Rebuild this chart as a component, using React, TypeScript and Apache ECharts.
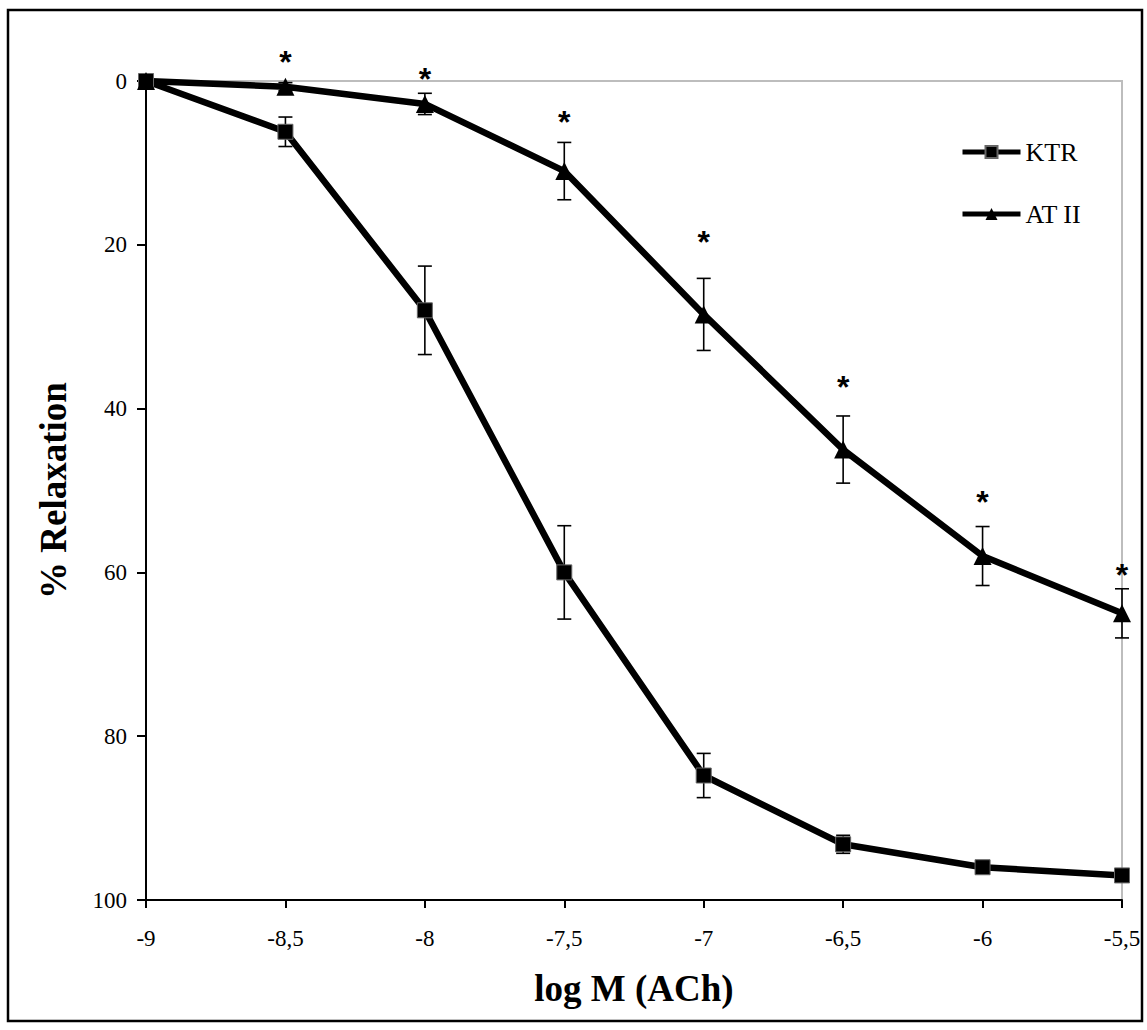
import React, { useEffect, useRef } from "react";
import * as echarts from "echarts";

const doses = [-9, -8.5, -8, -7.5, -7, -6.5, -6, -5.5];
const ktrValues = [0, 6.2, 28, 60, 84.8, 93.2, 96, 97];
const ktrErrors = [0, 1.8, 5.4, 5.7, 2.7, 1.1, 0.6, 0.5];
const at2Values = [0, 0.7, 2.8, 11, 28.5, 45, 58, 65];
const at2Errors = [0, 0.5, 1.3, 3.5, 4.4, 4.1, 3.6, 3.0];
const starLevels = [null, -3.2, -1.1, 4.2, 18.8, 36.5, 50.5, 59.5];
const yTicks = [0, 20, 40, 60, 80, 100];

const SERIF = "'Liberation Serif', 'Times New Roman', serif";
const SANS = "'Liberation Sans', Arial, sans-serif";

function errData(vals: number[], errs: number[]) {
  return doses
    .map((d, i) => [d, vals[i] - errs[i], vals[i] + errs[i], errs[i]])
    .filter((r) => r[3] > 0);
}

function errorRender(params: any, api: any) {
  const x = api.value(0);
  const lo = api.coord([x, api.value(1)]);
  const hi = api.coord([x, api.value(2)]);
  const half = 7;
  const style = { stroke: "#000", lineWidth: 1.6 };
  return {
    type: "group",
    children: [
      { type: "line", shape: { x1: lo[0], y1: lo[1], x2: hi[0], y2: hi[1] }, style },
      { type: "line", shape: { x1: lo[0] - half, y1: lo[1], x2: lo[0] + half, y2: lo[1] }, style },
      { type: "line", shape: { x1: hi[0] - half, y1: hi[1], x2: hi[0] + half, y2: hi[1] }, style },
    ],
  };
}

function starRender(params: any, api: any) {
  const p = api.coord([api.value(0), api.value(1)]);
  return {
    type: "text",
    x: p[0],
    y: p[1] + 7,
    style: {
      text: "*",
      fontSize: 32,
      fontWeight: "bold",
      fontFamily: SANS,
      fill: "#000",
      align: "center",
      verticalAlign: "middle",
    },
  };
}

export default function App() {
  const ref = useRef<HTMLDivElement>(null);
  useEffect(() => {
    if (!ref.current) return;
    const chart = echarts.init(ref.current, null, { renderer: "svg" });
    chart.setOption({
      animation: false,
      backgroundColor: "#fff",
      grid: {
        left: 146,
        top: 81,
        right: 25,
        bottom: 130,
        show: true,
        borderColor: "#bdbdbd",
        borderWidth: 2,
      },
      legend: {
        orient: "vertical",
        left: 955,
        top: 134,
        itemWidth: 58,
        itemHeight: 15,
        itemGap: 36,
        data: ["KTR", "AT II"],
        lineStyle: { width: 5 },
        textStyle: { fontSize: 26, color: "#000", fontFamily: SERIF },
      },
      xAxis: {
        type: "value",
        min: -9,
        max: -5.5,
        interval: 0.5,
        name: "log M (ACh)",
        nameLocation: "middle",
        nameGap: 70,
        nameTextStyle: { fontSize: 37, fontWeight: "bold", fontFamily: SERIF, color: "#000" },
        axisLine: { show: true, onZero: false, lineStyle: { color: "#000", width: 2 } },
        axisTick: { show: true, length: 8, lineStyle: { color: "#000", width: 2 } },
        axisLabel: {
          margin: 27,
          fontSize: 23,
          fontFamily: SERIF,
          color: "#000",
          formatter: (v: number) => String(v).replace(".", ","),
        },
        splitLine: { show: false },
      },
      yAxis: {
        type: "value",
        inverse: true,
        min: yTicks[0],
        max: yTicks[yTicks.length - 1],
        interval: 20,
        name: "% Relaxation",
        nameLocation: "middle",
        nameGap: 74,
        nameTextStyle: { fontSize: 37, fontWeight: "bold", fontFamily: SERIF, color: "#000" },
        axisLine: { show: true, onZero: false, lineStyle: { color: "#000", width: 2 } },
        axisTick: { show: true, length: 9, lineStyle: { color: "#000", width: 2 } },
        axisLabel: { margin: 19, fontSize: 23, fontFamily: SERIF, color: "#000" },
        splitLine: { show: false },
      },
      series: [
        {
          type: "custom",
          name: "errKTR",
          renderItem: errorRender,
          data: errData(ktrValues, ktrErrors),
          encode: { x: 0, y: [1, 2] },
          z: 1,
          silent: true,
        },
        {
          type: "custom",
          name: "errAT",
          renderItem: errorRender,
          data: errData(at2Values, at2Errors),
          encode: { x: 0, y: [1, 2] },
          z: 1,
          silent: true,
        },
        {
          type: "line",
          name: "KTR",
          data: doses.map((d, i) => [d, ktrValues[i]]),
          symbol: "rect",
          symbolSize: 15,
          lineStyle: { color: "#000", width: 6.5 },
          itemStyle: { color: "#000", borderColor: "#666", borderWidth: 1 },
          z: 3,
        },
        {
          type: "line",
          name: "AT II",
          data: doses.map((d, i) => [d, at2Values[i]]),
          symbol: "triangle",
          symbolSize: 18,
          lineStyle: { color: "#000", width: 6.5 },
          itemStyle: { color: "#000" },
          z: 3,
        },
        {
          type: "custom",
          name: "stars",
          renderItem: starRender,
          data: doses
            .map((d, i) => [d, starLevels[i]])
            .filter((r) => r[1] !== null),
          encode: { x: 0, y: 1 },
          clip: false,
          z: 4,
          silent: true,
        },
      ],
      graphic: [
        {
          type: "rect",
          shape: { x: 8, y: 10, width: 1134, height: 1011 },
          style: { fill: "none", stroke: "#000", lineWidth: 2.5 },
          silent: true,
          z: 10,
        },
      ],
    });
    return () => chart.dispose();
  }, []);
  return (
    <div
      ref={ref}
      style={{ position: "fixed", left: 0, top: 0, width: 1147, height: 1030 }}
    />
  );
}
